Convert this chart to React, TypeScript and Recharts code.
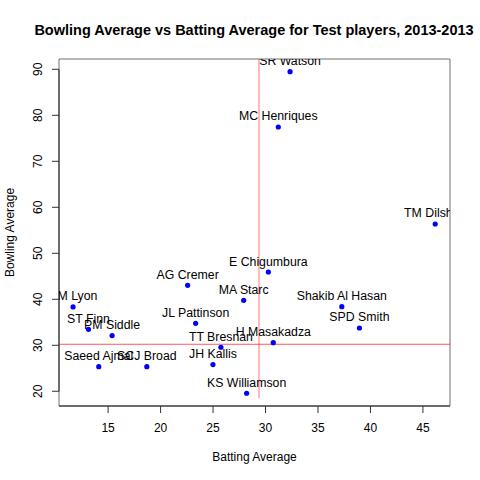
import React from 'react';
import { ScatterChart, Scatter, XAxis, YAxis, ReferenceLine, ReferenceArea } from 'recharts';

const players = [
  'SR Watson', 'MC Henriques', 'TM Dilshan', 'E Chigumbura', 'AG Cremer', 'MA Starc',
  'Shakib Al Hasan', 'JL Pattinson', 'SPD Smith', 'H Masakadza', 'TT Bresnan', 'JH Kallis',
  'KS Williamson', 'SCJ Broad', 'Saeed Ajmal', 'PM Siddle', 'ST Finn', 'NM Lyon',
];
const battingAvg = [
  32.34, 31.22, 46.17, 30.27, 22.58, 27.92,
  37.27, 23.34, 38.95, 30.74, 25.75, 24.99,
  28.2, 18.69, 14.11, 15.38, 13.13, 11.66,
];
const bowlingAvg = [
  89.48, 77.46, 56.37, 45.93, 43.04, 39.78,
  38.4, 34.78, 33.76, 30.57, 29.57, 25.8,
  19.57, 25.35, 25.35, 32.1, 33.48, 38.33,
];
const xTicks = [15, 20, 25, 30, 35, 40, 45];
const yTicks = [20, 30, 40, 50, 60, 70, 80, 90];
const refBatting = 29.38;
const refBowling = 30.22;
const xDomain: [number, number] = [10.32, 47.58];
const yDomain: [number, number] = [16.8, 92.24];
const refVerticalBottom = 18.5;

const data = players.map((name, i) => ({ name, x: battingAvg[i], y: bowlingAvg[i] }));

const FONT = '"Liberation Sans", Arial, Helvetica, sans-serif';

const PointShape = (props: any) => {
  const { cx, cy } = props;
  return <circle cx={cx} cy={cy} r={2.6} fill="#0000ff" />;
};

const LabelShape = (props: any) => {
  const { cx, cy, payload } = props;
  return (
    <text x={cx} y={cy - 6.5} textAnchor="middle" fontSize={12.3} fontFamily={FONT} fill="#000">
      {payload.name}
    </text>
  );
};

const YTick = (props: any) => {
  const { x, y, payload } = props;
  const tx = x - 7.5;
  return (
    <text x={tx} y={y} transform={`rotate(-90 ${tx} ${y})`} textAnchor="middle" fontSize={12} fontFamily={FONT} fill="#000">
      {payload.value}
    </text>
  );
};

const YLabel = () => (
  <text x={14} y={232.5} transform="rotate(-90 14 232.5)" textAnchor="middle" fontSize={12} fontFamily={FONT} fill="#000">
    Bowling Average
  </text>
);

export default function App() {
  return (
    <div style={{ position: 'absolute', left: 0, top: 0, width: 480, height: 480, background: '#fff' }}>
      <div
        style={{
          position: 'absolute', left: 0, top: 22, width: 508, textAlign: 'center',
          fontFamily: FONT, fontWeight: 'bold', fontSize: 14.5, lineHeight: '16px', color: '#000',
        }}
      >
        Bowling Average vs Batting Average for Test players, 2013-2013
      </div>
      <ScatterChart width={480} height={480} margin={{ top: 59, right: 30, bottom: 0, left: 0 }}>
        <XAxis
          type="number"
          dataKey="x"
          domain={xDomain}
          ticks={xTicks}
          allowDataOverflow
          height={74}
          axisLine={false}
          tickSize={7}
          tickMargin={10.5}
          tickLine={{ stroke: '#333' }}
          tick={{ fill: '#000', fontSize: 12, fontFamily: FONT }}
          label={{ value: 'Batting Average', position: 'insideBottom', offset: 19, fill: '#000', fontSize: 12, fontFamily: FONT }}
        />
        <YAxis
          type="number"
          dataKey="y"
          domain={yDomain}
          ticks={yTicks}
          allowDataOverflow
          width={59}
          axisLine={false}
          tickSize={7}
          tickLine={{ stroke: '#333' }}
          tick={<YTick />}
          label={<YLabel />}
        />
        <ReferenceArea x1={xDomain[0]} x2={xDomain[1]} y1={yDomain[0]} y2={yDomain[1]} fill="none" stroke="#707070" strokeWidth={1} ifOverflow="visible" />
        <ReferenceLine segment={[{ x: xDomain[0], y: yDomain[0] }, { x: xDomain[1], y: yDomain[0] }]} stroke="#222" ifOverflow="visible" />
        <ReferenceLine segment={[{ x: xDomain[0], y: yTicks[0] }, { x: xDomain[0], y: yTicks[yTicks.length - 1] }]} stroke="#222" ifOverflow="visible" />
        <Scatter data={data} shape={<PointShape />} isAnimationActive={false} />
        <Scatter data={data} shape={<LabelShape />} isAnimationActive={false} />
        <ReferenceLine y={refBowling} stroke="#ff0000" strokeOpacity={0.65} ifOverflow="visible" />
        <ReferenceLine segment={[{ x: refBatting, y: refVerticalBottom }, { x: refBatting, y: yDomain[1] }]} stroke="#ff0000" strokeOpacity={0.55} ifOverflow="visible" />
      </ScatterChart>
    </div>
  );
}
